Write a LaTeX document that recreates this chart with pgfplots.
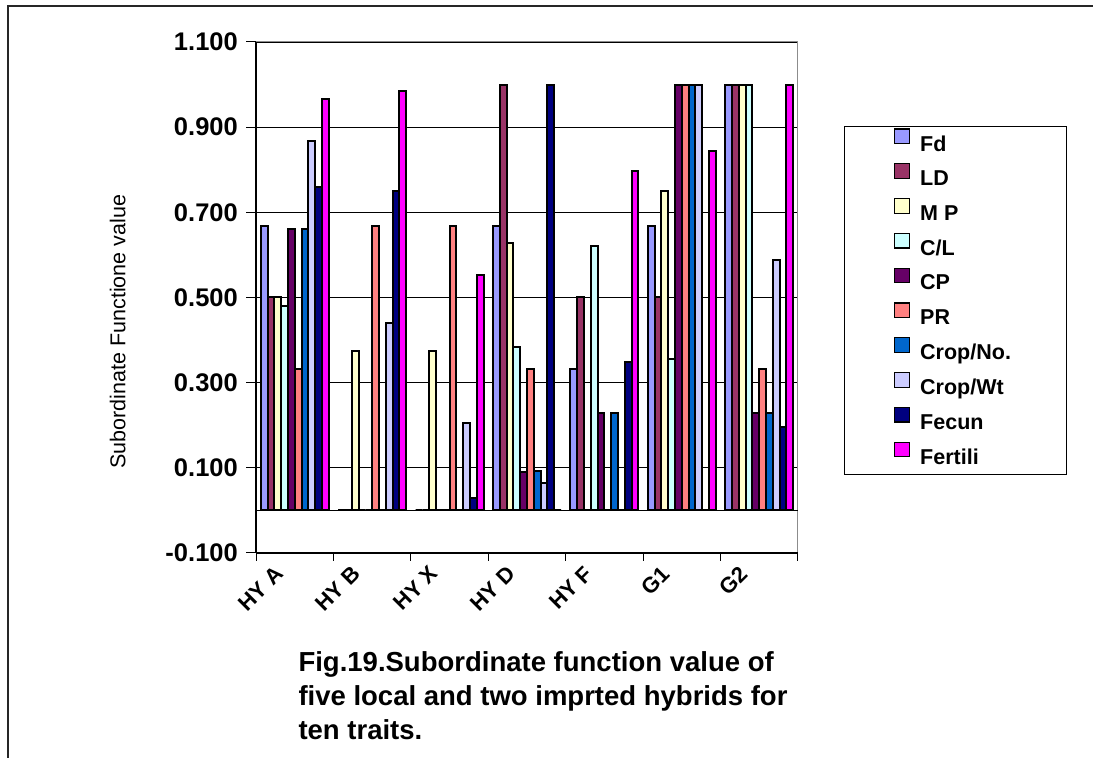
\documentclass[border=0pt]{standalone}
\usepackage{pgfplots}
\usepackage{pgfplotstable}
\pgfplotsset{compat=1.18}
\usepackage{fontspec}
\setmainfont{Liberation Sans}

\definecolor{cFd}{HTML}{9999FF}
\definecolor{cLD}{HTML}{993366}
\definecolor{cMP}{HTML}{FFFFCC}
\definecolor{cCL}{HTML}{CCFFFF}
\definecolor{cCP}{HTML}{660066}
\definecolor{cPR}{HTML}{FF8080}
\definecolor{cCN}{HTML}{0066CC}
\definecolor{cCW}{HTML}{CCCCFF}
\definecolor{cFe}{HTML}{000080}
\definecolor{cFt}{HTML}{FF00FF}

\pgfplotstableread{
x   Fd    LD   MP    CL    CP    PR    CN    CW    Fe    Ft
0.5 0.667 0.5  0.5   0.48  0.66  0.333 0.66  0.867 0.76  0.965
1.5 0     0    0.375 0     0     0.667 0     0.44  0.75  0.985
2.5 0     0    0.375 0     0     0.667 0     0.206 0.028 0.553
3.5 0.667 1.0  0.628 0.384 0.091 0.333 0.093 0.065 1.0   0
4.5 0.333 0.5  0     0.622 0.229 0     0.229 0     0.349 0.798
5.5 0.667 0.5  0.751 0.356 1.0   1.0   1.0   1.0   0     0.845
6.5 1.0   1.0  1.0   1.0   0.229 0.333 0.229 0.587 0.197 1.0
}\datatable

\begin{document}
\begin{tikzpicture}[x=1pt,y=1pt]
\useasboundingbox (0,0) rectangle (1093,758);
\draw[line width=2pt,black!85] (8,0) -- (8,752) -- (1093,752);
\begin{axis}[
  at={(256pt,205pt)}, anchor=south west,
  scale only axis, width=542pt, height=511pt,
  xmin=0, xmax=7, ymin=-0.1, ymax=1.1,
  ybar=0pt, bar width=6.8pt,
  axis line style={draw=black!45, line width=1pt},
  xtick={0.5,1.5,...,6.5},
  xticklabels={HY A,HY B,HY X,HY D,HY F,G1,G2},
  minor xtick={0,1,...,7},
  major x tick style={draw=none},
  minor x tick style={draw=black, line width=1pt},
  minor tick length=8pt,
  ytick={-0.1,0.1,0.3,0.5,0.7,0.9,1.1},
  ytick style={draw=black, line width=1pt},
  major tick length=10pt,
  tick align=outside, tick pos=left,
  ymajorgrids, grid style={black, line width=0.8pt},
  yticklabel style={font=\fontsize{25.5}{30}\selectfont\bfseries, inner sep=0pt, xshift=-8pt,
    /pgf/number format/fixed, /pgf/number format/zerofill, /pgf/number format/precision=3,
    /pgf/number format/assume math mode=true},
  xticklabel style={font=\fontsize{22}{26}\selectfont\bfseries, rotate=45, anchor=east, inner sep=0pt, yshift=6pt, xshift=-16pt},
  ylabel={Subordinate Functione value},
  ylabel style={font=\fontsize{21.5}{25}\selectfont, at={(axis description cs:-0.255,0.433)}, anchor=center},
  legend style={at={(axis description cs:1.0849,0.8356)}, anchor=north west,
    draw=black, line width=1.2pt, inner xsep=0pt, inner ysep=0pt,
    font=\fontsize{21.5}{25}\selectfont\bfseries,
    nodes={inner sep=0pt, minimum height=34.8pt},
    /tikz/column sep=10pt, row sep=0pt},
  legend cell align=left,
  legend image code/.code={\path (0pt,0pt); \draw[#1, draw=black, line width=1.2pt] (49pt,0.5pt) rectangle (64pt,15pt);},
  every axis plot post/.append style={draw=black, line width=2pt},
  clip=false,
]
\addplot[draw=black, fill=cFd] table[x=x,y=Fd] {\datatable};
\addplot[draw=black, fill=cLD] table[x=x,y=LD] {\datatable};
\addplot[draw=black, fill=cMP] table[x=x,y=MP] {\datatable};
\addplot[draw=black, fill=cCL] table[x=x,y=CL] {\datatable};
\addplot[draw=black, fill=cCP] table[x=x,y=CP] {\datatable};
\addplot[draw=black, fill=cPR] table[x=x,y=PR] {\datatable};
\addplot[draw=black, fill=cCN] table[x=x,y=CN] {\datatable};
\addplot[draw=black, fill=cCW] table[x=x,y=CW] {\datatable};
\addplot[draw=black, fill=cFe] table[x=x,y=Fe] {\datatable};
\addplot[draw=black, fill=cFt] table[x=x,y=Ft] {\datatable};
\legend{\makebox[146pt][l]{Fd},\makebox[146pt][l]{LD},\makebox[146pt][l]{M P},\makebox[146pt][l]{C/L},\makebox[146pt][l]{CP},\makebox[146pt][l]{PR},\makebox[146pt][l]{Crop/No.},\makebox[146pt][l]{Crop/Wt},\makebox[146pt][l]{Fecun},\makebox[146pt][l]{Fertili}}
\draw[black, line width=1.2pt] (axis cs:0,0) -- (axis cs:7,0);
\draw[black, line width=1.2pt] (axis cs:0,-0.1) -- (axis cs:7,-0.1);
\draw[black, line width=1.2pt] (axis cs:0,-0.1) -- (axis cs:0,1.1);
\end{axis}
\node[anchor=base west, font=\fontsize{27.5}{32}\selectfont\bfseries] at (295,86) {Fig.19.Subordinate function value of};
\node[anchor=base west, font=\fontsize{27.5}{32}\selectfont\bfseries] at (295,52) {five local and two imprted hybrids for};
\node[anchor=base west, font=\fontsize{27.5}{32}\selectfont\bfseries] at (295,18) {ten traits.};
\end{tikzpicture}
\end{document}
